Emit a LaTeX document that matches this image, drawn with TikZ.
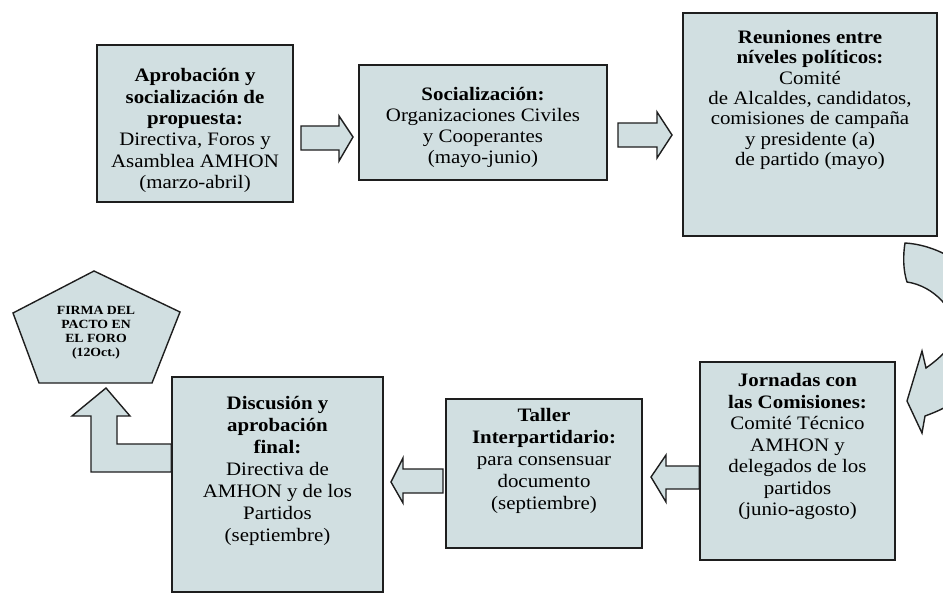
\documentclass[tikz,border=0pt]{standalone}
\usepackage{fontspec}
\setmainfont{Liberation Serif}[FakeStretch=1.1]
\usetikzlibrary{calc}
\definecolor{boxfill}{RGB}{209,223,225}
\definecolor{edgecol}{RGB}{30,30,30}
\begin{document}
\begin{tikzpicture}[x=1pt,y=-1pt,
  box/.style={draw=edgecol, line width=1.5pt, fill=boxfill, inner sep=0pt},
  txt/.style={align=center, inner sep=0pt, text=black, anchor=north},
  blockarrow/.style={draw=edgecol, line width=1.4pt, fill=boxfill, line join=miter}]
\useasboundingbox (0,0) rectangle (943,603);
\fill[white] (0,0) rectangle (943,603);

% boxes
\node[box, minimum width=196pt, minimum height=157pt] (b1) at (195,123.5) {};
\node[box, minimum width=248pt, minimum height=115pt] (b2) at (483,122.5) {};
\node[box, minimum width=254pt, minimum height=223pt] (b3) at (810,124.5) {};
\node[box, minimum width=195pt, minimum height=198pt] (b4) at (797.5,461) {};
\node[box, minimum width=196pt, minimum height=149pt] (b5) at (544,473.5) {};
\node[box, minimum width=211pt, minimum height=215pt] (b6) at (277.5,484.5) {};

% texts
\node[txt, font=\fontsize{19}{21.4}\selectfont] (t1) at ($(b1.north)+(0,24)$)
  {\textbf{Aprobación y}\\\textbf{socialización de}\\\textbf{propuesta:}\\Directiva, Foros y\\Asamblea AMHON\\(marzo-abril)};
\node[txt, font=\fontsize{19}{21}\selectfont] (t2) at ($(b2.north)+(0,23)$)
  {\textbf{Socialización:}\\Organizaciones Civiles\\y Cooperantes\\(mayo-junio)};
\node[txt, font=\fontsize{19}{20.3}\selectfont] (t3) at ($(b3.north)+(0,18)$)
  {\textbf{Reuniones entre}\\\textbf{níveles políticos:}\\Comité\\de Alcaldes, candidatos,\\comisiones de campaña\\y presidente (a)\\de partido (mayo)};
\node[txt, font=\fontsize{19}{21.5}\selectfont] (t4) at ($(b4.north)+(0,12)$)
  {\textbf{Jornadas con}\\\textbf{las Comisiones:}\\Comité Técnico\\AMHON y\\delegados de los\\partidos\\(junio-agosto)};
\node[txt, font=\fontsize{19}{22}\selectfont] (t5) at ($(b5.north)+(0,10)$)
  {\textbf{Taller}\\\textbf{Interpartidario:}\\para consensuar\\documento\\(septiembre)};
\node[txt, font=\fontsize{19}{22}\selectfont] (t6) at ($(b6.north)+(0,20)$)
  {\textbf{Discusión y}\\\textbf{aprobación}\\\textbf{final:}\\Directiva de\\AMHON y de los\\Partidos\\(septiembre)};

% pentagon
\coordinate (p1) at (94,271);
\coordinate (p2) at (180,312);
\coordinate (p3) at (152,383);
\coordinate (p4) at (39,383);
\coordinate (p5) at (13,313);
\draw[blockarrow] (p1) -- (p2) -- (p3) -- (p4) -- (p5) -- cycle;
\node[align=center, inner sep=0pt, font=\fontsize{12.5}{14}\selectfont\bfseries] (pt) at (96,333)
  {FIRMA DEL\\PACTO EN\\EL FORO\\(12Oct.)};

% straight block arrows
\draw[blockarrow] (301,126) -- (339,126) -- (339,116) -- (353,137) -- (339,161) -- (339,150) -- (301,150) -- cycle;
\draw[blockarrow] (618,147) -- (657,147) -- (657,158) -- (672,135) -- (657,112) -- (657,123) -- (618,123) -- cycle;
\draw[blockarrow] (b4.west |- 0,466) -- (666,466) -- (666,455) -- (651,477) -- (666,502) -- (666,489) -- (b4.west |- 0,489) -- cycle;
\draw[blockarrow] (443,469) -- (403,469) -- (403,458) -- (391,482) -- (403,503) -- (403,493) -- (443,493) -- cycle;

% L-shaped up arrow
\draw[blockarrow] (b6.west |- 0,472) -- (91,472) -- (91,416) -- (72,416) -- (106,388) -- (130,416) -- (117,416) -- (117,444) -- (b6.west |- 0,444) -- cycle;

% curved arrow on the right (cropped by the page edge)
\begin{scope}
\clip (0,0) rectangle (943,603);
\draw[blockarrow] (905,243) .. controls (955,246) and (1000,290) .. (1002,330)
  .. controls (1002,368) and (970,400) .. (925,416) -- (922,433) -- (907,401) -- (922,351) -- (926,368)
  .. controls (940,358) and (954,346) .. (955,330)
  .. controls (956,312) and (935,286) .. (907,282)
  .. controls (903,270) and (903,255) .. cycle;
\end{scope}
\end{tikzpicture}
\end{document}
